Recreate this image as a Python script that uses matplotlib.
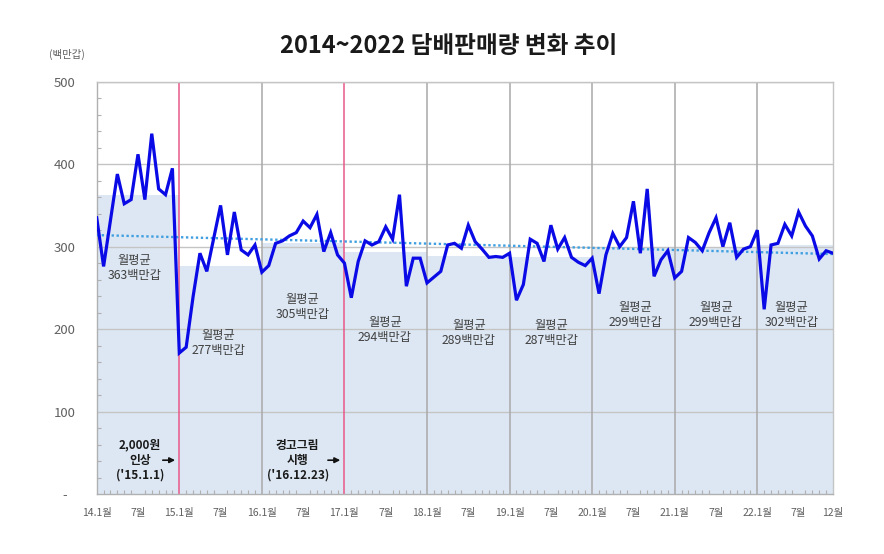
import matplotlib
matplotlib.use("Agg")
import matplotlib.pyplot as plt
import numpy as np

plt.rcParams['font.family'] = ['Noto Sans CJK KR', 'DejaVu Sans']

# ---- data ----
years = [2014, 2015, 2016, 2017, 2018, 2019, 2020, 2021, 2022]
sales_2014 = [335, 276, 332, 388, 352, 357, 412, 357, 437, 370, 363, 395]
sales_2015 = [171, 178, 239, 292, 270, 310, 350, 290, 342, 296, 290, 302]
sales_2016 = [269, 277, 304, 307, 313, 317, 331, 323, 339, 294, 317, 290]
sales_2017 = [280, 238, 282, 307, 302, 306, 324, 309, 363, 252, 286, 286]
sales_2018 = [256, 263, 270, 302, 304, 298, 326, 306, 297, 287, 288, 287]
sales_2019 = [292, 235, 254, 309, 304, 282, 326, 297, 311, 287, 281, 277]
sales_2020 = [286, 243, 290, 316, 300, 311, 355, 292, 370, 264, 284, 295]
sales_2021 = [262, 270, 311, 305, 295, 317, 335, 300, 329, 287, 297, 300]
sales_2022 = [320, 224, 302, 304, 327, 313, 342, 325, 313, 285, 295, 292]
monthly_avg = [363, 277, 305, 294, 289, 287, 299, 299, 302]
trend_start, trend_end = 314, 291
x_tick_labels = ['14.1월', '7월', '15.1월', '7월', '16.1월', '7월', '17.1월', '7월',
                 '18.1월', '7월', '19.1월', '7월', '20.1월', '7월', '21.1월', '7월',
                 '22.1월', '7월', '12월']
y_ticks = [0, 100, 200, 300, 400, 500]
y_tick_labels = ['-', '100', '200', '300', '400', '500']
event_months = [12, 36]
event_labels = ["2,000원\n인상\n('15.1.1)", "경고그림\n시행\n('16.12.23)"]
title = '2014~2022 담배판매량 변화 추이'
unit = '(백만갑)'

sales = np.concatenate([sales_2014, sales_2015, sales_2016, sales_2017, sales_2018,
                        sales_2019, sales_2020, sales_2021, sales_2022])
months = np.arange(len(sales))
last = len(sales) - 1

fig = plt.figure(figsize=(8.84, 5.54), dpi=100)
ax = fig.add_axes([0.1094, 0.1083, 0.9423 - 0.1094, 0.8525 - 0.1083])
ax.set_xlim(0, last)
ax.set_ylim(0, 500)

# yearly average bands
for i, avg in enumerate(monthly_avg):
    start = 12 * i
    width = min(12, last - start)
    ax.bar(start, avg, width=width, align='edge', color='#dde7f3', zorder=1, linewidth=0)

# horizontal grid
for yv in y_ticks[1:]:
    ax.axhline(yv, color='#c4c4c4', lw=1.0, zorder=2)

# vertical year lines
for i in range(1, len(years)):
    m = 12 * i
    if m in event_months:
        ax.axvline(m, color='#e8588a', lw=1.1, zorder=2.5)
    else:
        ax.axvline(m, color='#a8a8a8', lw=1.1, zorder=2)

# trend line
ax.plot([0, last], [trend_start, trend_end], color='#3f9fe0', lw=1.7,
        linestyle=(0, (1, 1.1)), zorder=3)

# sales line
ax.plot(months, sales, color='#0a0ae6', lw=2.3, zorder=4, solid_joinstyle='miter')

# spines
for s in ['left', 'bottom', 'right', 'top']:
    ax.spines[s].set_color('#c4c4c4')
    ax.spines[s].set_linewidth(1.0)
ax.spines['left'].set_color('#b0b0b0')
ax.spines['bottom'].set_color('#b0b0b0')

# ticks
xt = [m for m in range(0, last + 1, 6)] + [last]
ax.set_xticks(xt)
ax.set_xticklabels(x_tick_labels, fontsize=7.5, color='#606060')
ax.set_xticks(months, minor=True)
ax.tick_params(axis='x', which='major', length=0, pad=10)
ax.tick_params(axis='x', which='minor', direction='in', length=3, color='#b0b0b0', width=0.8)

ax.set_yticks(y_ticks)
ax.set_yticklabels(y_tick_labels, fontsize=9.5, color='#606060')
for lbl in ax.get_yticklabels():
    lbl.set_horizontalalignment('center')
ax.set_yticks(np.arange(0, 501, 20), minor=True)
ax.tick_params(axis='y', which='major', length=0, pad=23)
ax.tick_params(axis='y', which='minor', direction='in', length=3, color='#b0b0b0', width=0.8)

# average labels
avg_label_pos = [(5.5, 274), (17.7, 183), (29.9, 227), (41.9, 199), (54.1, 195),
                 (66.1, 195), (78.3, 217), (90.0, 217), (101.0, 217)]
for (px, py), avg in zip(avg_label_pos, monthly_avg):
    ax.text(px, py, f'월평균\n{avg}백만갑', ha='center', va='center', fontsize=8.8,
            color='#404040', linespacing=1.2, zorder=5)

# event labels with arrows
event_text_pos = [(6.3, 41), (29.2, 41)]
for (px, py), m, txt in zip(event_text_pos, event_months, event_labels):
    ax.text(px, py, txt, ha='center', va='center', fontsize=8.5, fontweight='bold',
            color='#1a1a1a', linespacing=1.2, zorder=5)
    ax.annotate('', xy=(m - 0.2, py), xytext=(m - 2.8, py),
                arrowprops=dict(arrowstyle='-|>', color='#111111', lw=1.2,
                                mutation_scale=8), zorder=5)

# title and unit
fig.text(0.508, 0.917, title, ha='center', va='center', fontsize=17, fontweight='bold',
         color='#1a1a1a')
fig.text(0.076, 0.901, unit, ha='center', va='center', fontsize=7.5, color='#606060')

fig.savefig('out.png', dpi=100, facecolor='white')
